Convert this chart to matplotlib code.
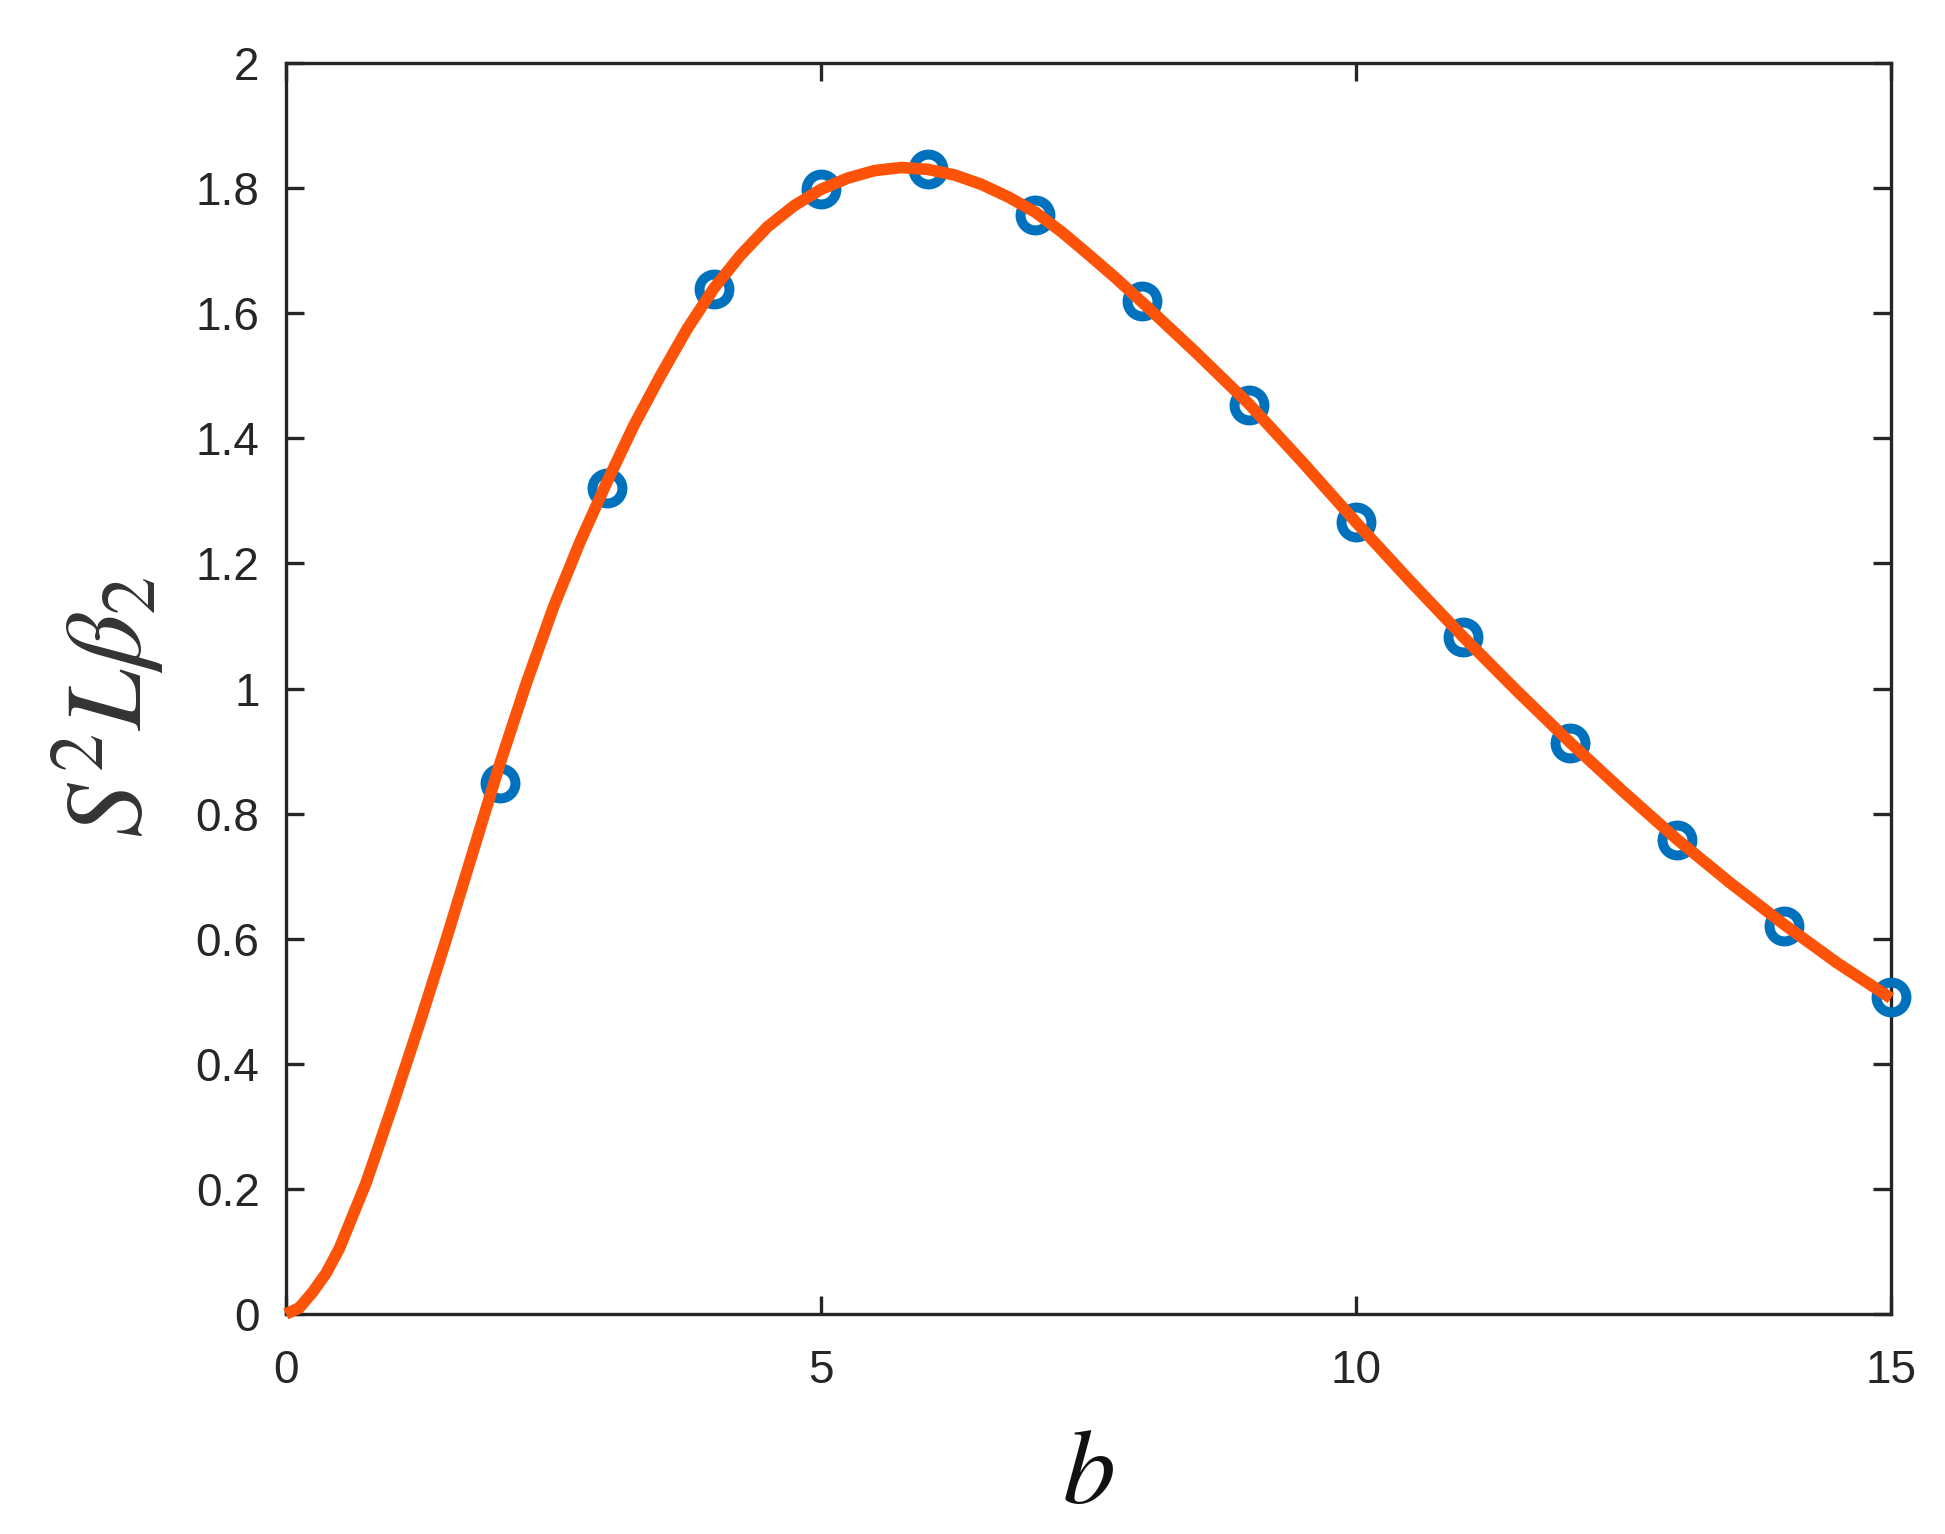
import matplotlib
matplotlib.use("Agg")
import matplotlib.pyplot as plt

# ---- data ----
b_points = [2, 3, 4, 5, 6, 7, 8, 9, 10, 11, 12, 13, 14, 15]
v_points = [0.849, 1.321, 1.638, 1.799, 1.830, 1.757, 1.620, 1.453, 1.267,
            1.082, 0.913, 0.758, 0.621, 0.507]

b_curve = [0, 0.125, 0.25, 0.375, 0.5, 0.75, 1.0, 1.25, 1.5, 1.75, 2.0,
           2.25, 2.5, 2.75, 3.0, 3.25, 3.5, 3.75, 4.0, 4.25, 4.5, 4.75,
           5.0, 5.25, 5.5, 5.75, 6.0, 6.25, 6.5, 6.75, 7.0, 7.25, 7.5,
           7.75, 8.0, 8.5, 9.0, 9.5, 10.0, 10.5, 11.0, 11.5, 12.0, 12.5,
           13.0, 13.5, 14.0, 14.5, 15.0]
v_curve = [0.0, 0.01, 0.035, 0.065, 0.105, 0.21, 0.335, 0.465, 0.6, 0.74,
           0.88, 1.01, 1.13, 1.235, 1.33, 1.42, 1.5, 1.575, 1.64, 1.693,
           1.738, 1.772, 1.798, 1.816, 1.828, 1.833, 1.830, 1.821, 1.806,
           1.786, 1.762, 1.730, 1.694, 1.657, 1.618, 1.538, 1.455, 1.362,
           1.266, 1.173, 1.083, 0.997, 0.914, 0.835, 0.759, 0.689, 0.623,
           0.561, 0.505]

x_ticks = [0, 5, 10, 15]
x_ticklabels = ["0", "5", "10", "15"]
y_ticks = [0, 0.2, 0.4, 0.6, 0.8, 1.0, 1.2, 1.4, 1.6, 1.8, 2.0]
y_ticklabels = ["0", "0.2", "0.4", "0.6", "0.8", "1", "1.2", "1.4", "1.6", "1.8", "2"]

# ---- figure ----
plt.rcParams["mathtext.fontset"] = "stix"
fig = plt.figure(figsize=(19.45, 15.34), dpi=100)
ax = fig.add_axes([0.147, 0.1434, 0.8252, 0.8155])

ax.plot(b_points, v_points, linestyle="none", marker="o", markersize=21.5,
        markerfacecolor="none", markeredgecolor="#0072BD",
        markeredgewidth=7.2, clip_on=False, zorder=3)
ax.plot(b_curve, v_curve, color="#FC5309", linewidth=8.4,
        solid_capstyle="butt", solid_joinstyle="round",
        clip_on=False, zorder=4)

ax.set_xlim(0, 15)
ax.set_ylim(0, 2)
ax.set_xticks(x_ticks)
ax.set_xticklabels(x_ticklabels)
ax.set_yticks(y_ticks)
ax.set_yticklabels(y_ticklabels)

for s in ax.spines.values():
    s.set_linewidth(2.4)
    s.set_color("#262626")

ax.tick_params(axis="both", which="both", direction="in", length=13,
               width=2.4, color="#262626", top=True, right=True,
               labelsize=33, labelcolor="#262626")
ax.tick_params(axis="y", pad=19)
ax.tick_params(axis="x", pad=25)
for lab in ax.get_xticklabels() + ax.get_yticklabels():
    lab.set_family("Liberation Sans")

ax.set_xlabel(r"$b$", fontsize=76, labelpad=22, color="#111111")
ax.set_ylabel(r"$S^2L\beta_2$", fontsize=78, color="#333333")
ax.yaxis.set_label_coords(-0.074, 0.485)

fig.savefig("out.png", dpi=100, facecolor="white")
